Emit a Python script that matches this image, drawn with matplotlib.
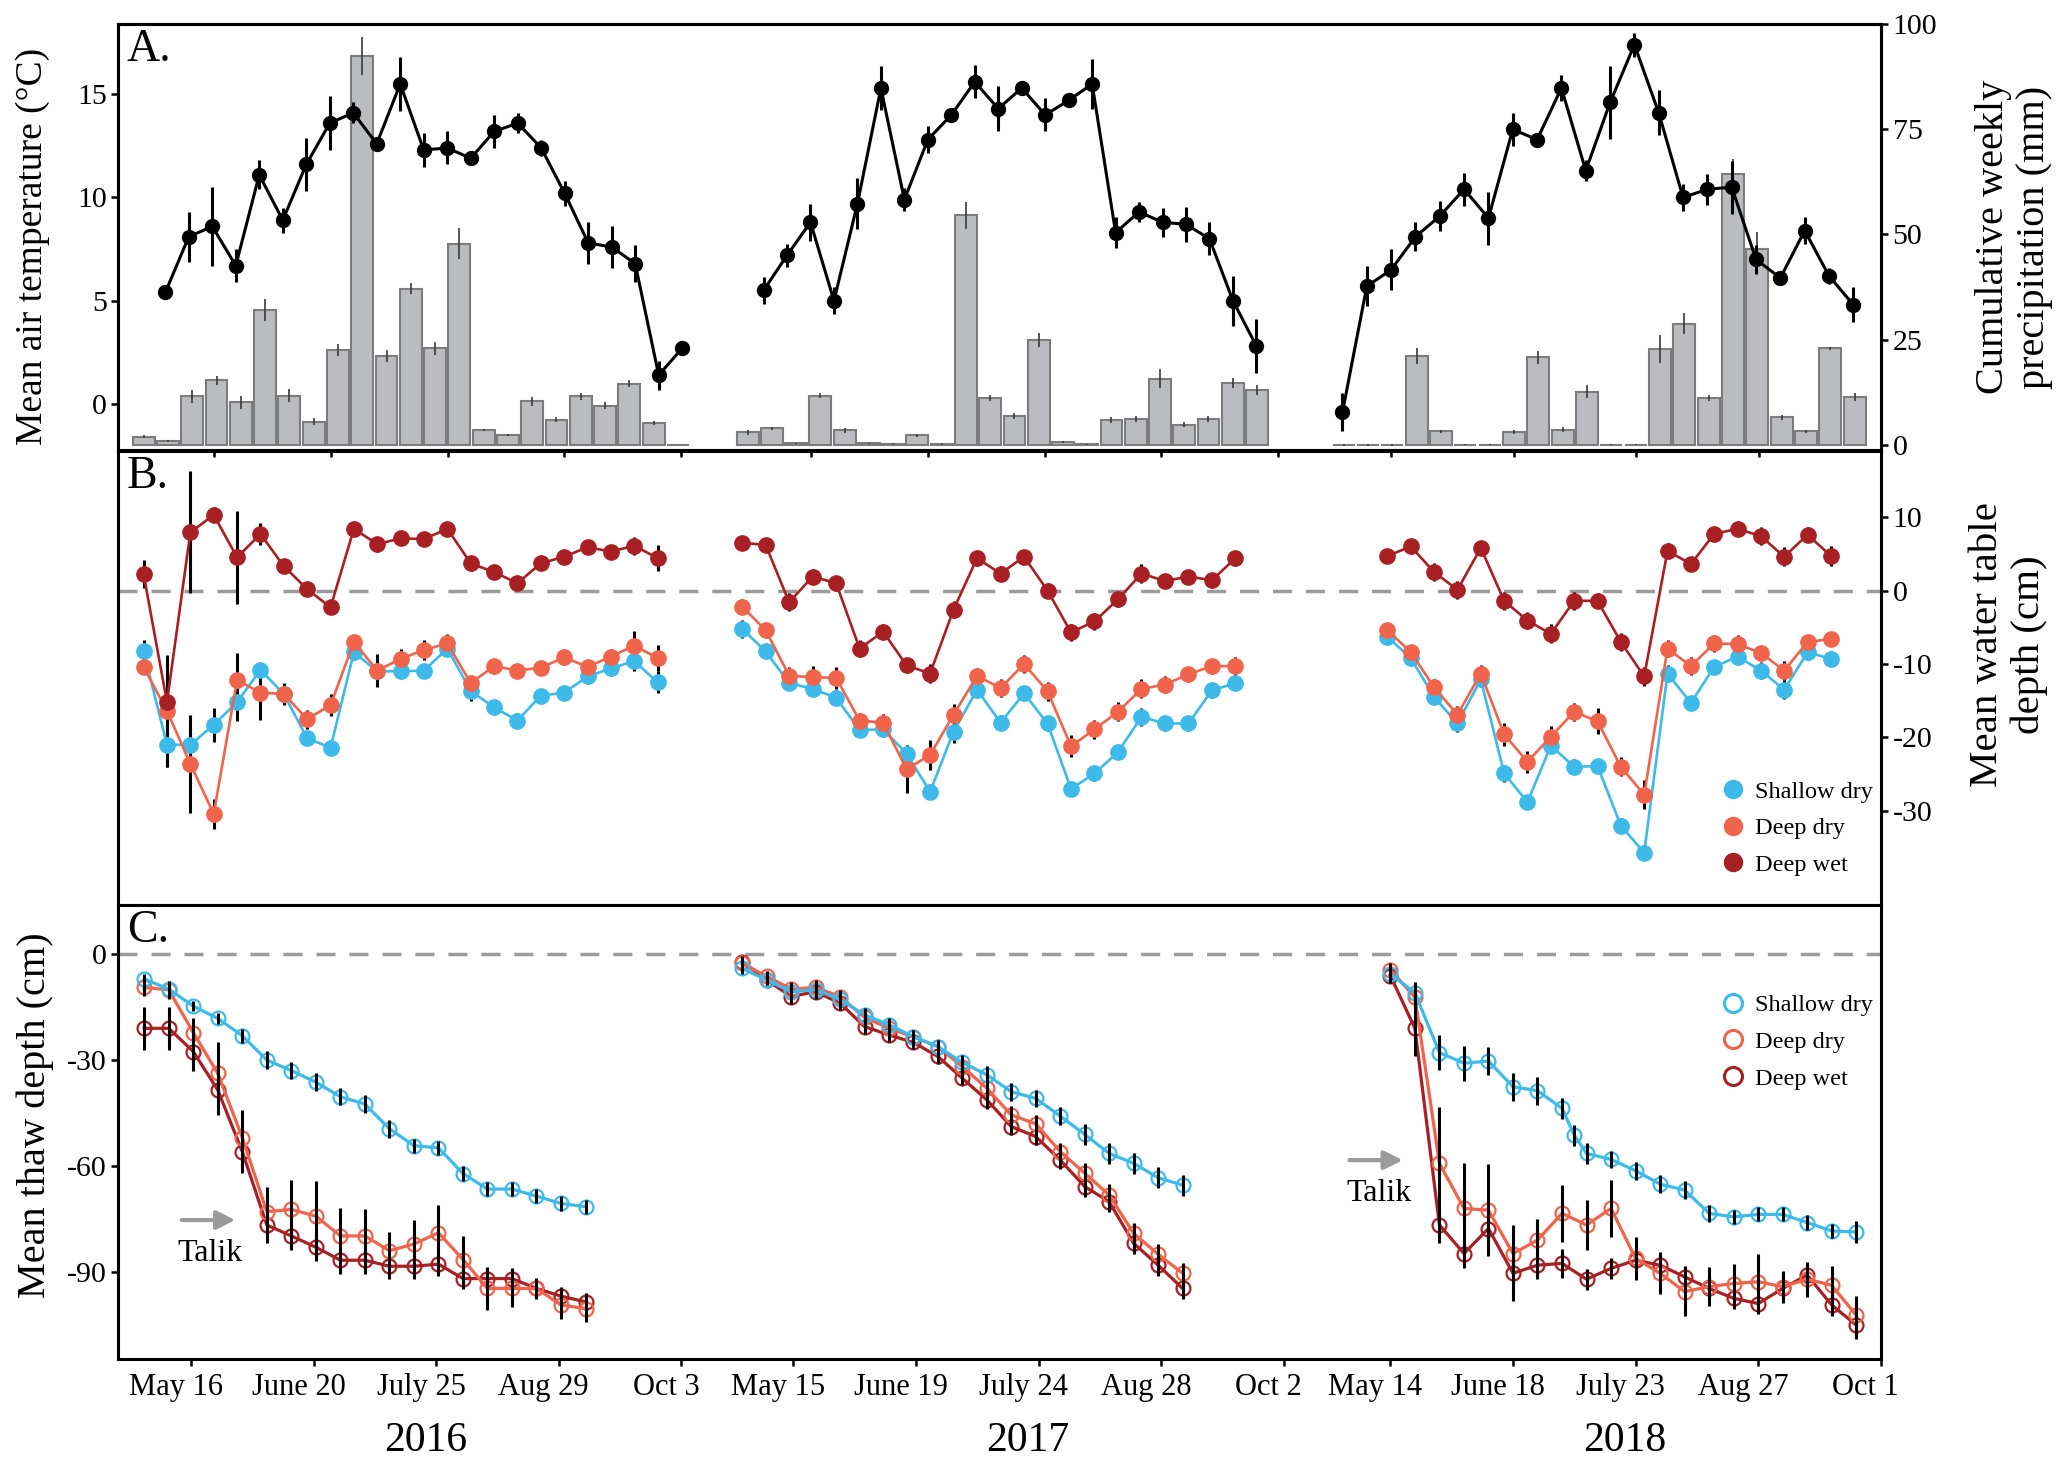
import matplotlib
matplotlib.use('Agg')
import matplotlib.pyplot as plt
import matplotlib.transforms as mtrans
from matplotlib.lines import Line2D
import numpy as np

plt.rcParams['font.family'] = ['Liberation Serif', 'DejaVu Serif']
plt.rcParams['axes.unicode_minus'] = False

YEARS = ['2016', '2017', '2018']
TICK_LABELS = [['May 16', 'June 20', 'July 25', 'Aug 29', 'Oct 3'],
               ['May 15', 'June 19', 'July 24', 'Aug 28', 'Oct 2'],
               ['May 14', 'June 18', 'July 23', 'Aug 27', 'Oct 1']]
TICK_WEEKS = [0, 5, 10, 15, 20]

# ---- panel A: mean air temperature (deg C) ----
temp_2016 = [5.4, 8.1, 8.6, 6.7, 11.1, 8.9, 11.6, 13.6, 14.1, 12.6, 15.5, 12.3,
             12.4, 11.9, 13.2, 13.6, 12.4, 10.2, 7.8, 7.6, 6.8, 1.4, 2.7]
temp_err_2016 = [0.3, 1.2, 1.9, 0.8, 0.7, 0.6, 1.3, 1.3, 0.5, 0.2, 1.3, 0.8,
                 0.8, 0.3, 0.8, 0.5, 0.4, 0.6, 1.0, 1.0, 0.9, 0.7, 0.0]
temp_2017 = [5.5, 7.2, 8.8, 5.0, 9.7, 15.3, 9.9, 12.8, 14.0, 15.6, 14.3, 15.3,
             14.0, 14.7, 15.5, 8.3, 9.3, 8.8, 8.7, 8.0, 5.0, 2.8]
temp_err_2017 = [0.65, 0.55, 0.9, 0.65, 1.25, 1.05, 0.55, 0.65, 0.35, 0.8, 1.1, 0.2,
                 0.8, 0.3, 1.2, 0.75, 0.5, 0.7, 0.85, 0.8, 1.2, 1.3]
temp_2018 = [-0.4, 5.7, 6.5, 8.1, 9.1, 10.4, 9.0, 13.3, 12.8, 15.3, 11.3, 14.6,
             17.4, 14.1, 10.0, 10.4, 10.5, 7.0, 6.1, 8.4, 6.2, 4.8]
temp_err_2018 = [0.93, 0.97, 1.0, 0.7, 0.72, 0.8, 1.29, 0.8, 0.3, 0.64, 0.5, 1.77,
                 0.58, 1.09, 0.64, 0.76, 1.29, 0.72, 0.36, 0.64, 0.4, 0.85]

# ---- panel A: cumulative weekly precipitation (mm) ----
precip_2016 = [1.9, 0.9, 11.5, 15.3, 10.1, 32.0, 11.7, 5.5, 22.5, 92.4, 21.1, 37.1,
               22.9, 47.8, 3.5, 2.3, 10.3, 5.9, 11.5, 9.3, 14.5, 5.1, 0.0]
precip_err_2016 = [0.3, 0.2, 1.5, 1.0, 1.5, 2.6, 1.5, 0.8, 1.5, 4.6, 1.5, 1.3,
                   1.5, 3.6, 0.3, 0.3, 1.0, 0.6, 0.9, 0.8, 0.8, 0.5, 0.0]
precip_2017 = [3.0, 3.9, 0.3, 11.7, 3.4, 0.3, 0.2, 2.2, 0.1, 54.5, 11.1, 6.9,
               24.9, 0.7, 0.1, 5.8, 6.1, 15.7, 4.7, 6.1, 14.7, 13.0]
precip_err_2017 = [0.6, 0.4, 0.1, 0.7, 0.6, 0.1, 0.1, 0.4, 0.1, 3.2, 0.8, 0.7,
                   1.7, 0.2, 0.1, 0.7, 0.7, 2.2, 0.6, 0.8, 1.2, 1.2]
precip_2018 = [0.0, 0.0, 0.0, 21.2, 3.2, 0.0, 0.0, 3.0, 20.8, 3.6, 12.6, 0.0,
               0.0, 22.8, 28.8, 11.1, 64.3, 46.5, 6.5, 3.2, 22.9, 11.3]
precip_err_2018 = [0.2, 0.2, 0.2, 1.9, 0.4, 0.1, 0.1, 0.5, 1.5, 0.5, 1.6, 0.1,
                   0.1, 3.3, 2.5, 0.8, 3.6, 4.0, 0.5, 0.4, 0.3, 1.0]

# ---- panel B: mean water table depth (cm) ----
wt_shallow_2016 = [-8.3, -21.0, -21.0, -18.3, -15.2, -10.8, -14.1, -20.1, -21.4, -8.4, -11.0, -11.0,
                   -10.9, -7.9, -13.7, -15.9, -17.7, -14.3, -13.9, -11.7, -10.6, -9.6, -12.5]
wt_deepdry_2016 = [-10.4, -16.4, -23.6, -30.4, -12.2, -13.9, -14.1, -17.5, -15.6, -7.0, -10.9, -9.3,
                   -8.1, -7.2, -12.6, -10.3, -10.9, -10.5, -9.1, -10.4, -9.0, -7.5, -9.2]
wt_deepwet_2016 = [2.2, -15.2, 7.9, 10.3, 4.5, 7.7, 3.3, 0.2, -2.3, 8.4, 6.3, 7.1,
                   7.0, 8.4, 3.7, 2.5, 1.0, 3.7, 4.6, 5.9, 5.3, 6.1, 4.4]
wt_shallow_err_2016 = [1.5, 3.0, 2.5, 2.3, 2.5, 0.8, 1.3, 0.8, 1.0, 1.0, 0.8, 0.5,
                       0.5, 0.5, 1.3, 1.0, 1.0, 0.8, 0.8, 1.0, 1.0, 1.3, 1.5]
wt_deepdry_err_2016 = [1.0, 7.6, 6.7, 2.0, 3.7, 3.7, 1.5, 1.3, 1.5, 1.0, 2.3, 1.3,
                       1.3, 1.3, 1.0, 1.0, 0.8, 0.8, 1.0, 0.8, 1.0, 2.0, 1.8]
wt_deepwet_err_2016 = [1.9, 1.0, 8.3, 1.0, 6.3, 1.5, 0.8, 0.6, 0.5, 0.8, 1.0, 0.6,
                       0.7, 0.7, 1.0, 0.8, 0.6, 0.6, 0.6, 0.7, 0.7, 1.2, 1.8]

wt_shallow_2017 = [-5.2, -8.3, -12.6, -13.4, -14.6, -19.0, -18.9, -22.2, -27.4, -19.2, -13.5,
                   -18.0, -14.0, -18.1, -27.0, -24.9, -22.0, -17.2, -18.1, -18.1, -13.6, -12.6]
wt_deepdry_2017 = [-2.2, -5.4, -11.6, -11.8, -11.9, -17.7, -18.0, -24.3, -22.4, -16.9, -11.6,
                   -13.3, -10.0, -13.7, -21.2, -18.9, -16.5, -13.4, -12.8, -11.4, -10.3, -10.3]
wt_deepwet_2017 = [6.5, 6.2, -1.6, 1.9, 1.0, -7.9, -5.6, -10.2, -11.3, -2.6, 4.4,
                   2.3, 4.6, 0.0, -5.7, -4.2, -1.2, 2.3, 1.3, 1.9, 1.4, 4.4]
wt_shallow_err_2017 = [1.2, 1.0, 1.0, 1.0, 1.0, 1.0, 1.0, 1.2, 1.0, 1.5, 1.0,
                       1.0, 1.0, 1.0, 1.0, 1.0, 1.0, 1.2, 1.0, 1.0, 1.0, 1.0]
wt_deepdry_err_2017 = [1.0, 1.0, 1.2, 1.5, 1.5, 1.0, 1.2, 3.2, 2.0, 1.5, 1.0,
                       1.2, 1.2, 1.3, 1.5, 1.3, 1.3, 1.3, 1.2, 1.0, 1.0, 1.3]
wt_deepwet_err_2017 = [0.8, 0.8, 1.2, 1.0, 1.0, 1.2, 1.0, 1.0, 1.3, 1.2, 1.0,
                       1.0, 0.8, 1.0, 1.2, 1.2, 1.0, 1.3, 1.0, 0.8, 1.0, 1.0]

wt_shallow_2018 = [-6.3, -9.2, -14.5, -18.1, -12.1, -24.9, -28.8, -21.1, -24.0, -23.9,
                   -32.0, -35.7, -11.3, -15.3, -10.4, -9.0, -10.9, -13.5, -8.4, -9.3]
wt_deepdry_2018 = [-5.4, -8.4, -13.2, -16.9, -11.3, -19.6, -23.3, -19.9, -16.5, -17.8,
                   -24.0, -27.8, -7.9, -10.3, -7.2, -7.3, -8.5, -10.9, -7.0, -6.6]
wt_deepwet_2018 = [4.7, 6.0, 2.5, 0.1, 5.8, -1.4, -4.1, -5.9, -1.4, -1.4,
                   -7.0, -11.7, 5.4, 3.6, 7.7, 8.4, 7.4, 4.6, 7.6, 4.7]
wt_shallow_err_2018 = [1.0, 1.0, 1.0, 1.2, 1.0, 1.2, 1.0, 1.0, 1.0, 1.0,
                       1.0, 1.0, 1.2, 1.0, 1.0, 1.0, 1.2, 1.3, 1.0, 1.0]
wt_deepdry_err_2018 = [1.0, 1.0, 1.2, 1.2, 1.2, 1.5, 1.5, 1.5, 1.2, 1.8,
                       1.3, 2.0, 1.2, 1.2, 1.2, 1.2, 1.0, 1.3, 1.0, 1.0]
wt_deepwet_err_2018 = [1.0, 1.0, 1.2, 1.2, 1.0, 1.2, 1.2, 1.3, 1.2, 1.0,
                       1.2, 1.3, 1.0, 1.0, 1.0, 1.0, 1.2, 1.3, 1.0, 1.3]

# ---- panel C: mean thaw depth (cm) ----
td_shallow_2016 = [-7.0, -9.9, -14.7, -18.2, -23.1, -30.0, -33.0, -36.3, -40.4, -42.5,
                   -49.5, -54.3, -54.9, -62.2, -66.6, -66.6, -68.6, -70.7, -71.6]
td_deepdry_2016 = [-9.4, -10.1, -22.2, -33.8, -52.0, -73.0, -72.4, -74.3, -79.9, -79.9,
                   -84.1, -82.2, -79.0, -86.6, -94.8, -94.8, -94.8, -99.5, -100.5]
td_deepwet_2016 = [-21.0, -21.0, -27.6, -38.5, -56.0, -76.8, -79.9, -83.1, -86.8, -86.8,
                   -88.5, -88.5, -87.9, -92.0, -92.0, -92.0, -94.8, -97.0, -98.6]
td_shallow_err_2016 = [1.5, 1.5, 1.5, 1.5, 2.0, 2.5, 2.5, 2.5, 2.5, 2.5,
                       2.5, 2.0, 2.0, 2.0, 2.0, 2.0, 2.0, 2.0, 2.0]
td_deepdry_err_2016 = [2.5, 2.5, 4.0, 9.0, 7.8, 7.0, 8.3, 10.0, 7.8, 7.6,
                       5.4, 6.9, 8.0, 6.6, 6.0, 5.2, 3.0, 4.0, 3.8]
td_deepwet_err_2016 = [6.1, 6.1, 5.5, 7.0, 6.0, 5.0, 4.0, 4.0, 4.0, 4.0,
                       3.5, 3.5, 3.5, 3.0, 3.0, 3.0, 2.5, 2.5, 2.5]

td_shallow_2017 = [-4.0, -7.3, -10.6, -10.1, -12.8, -17.2, -20.0, -23.4, -26.2, -30.7,
                   -34.2, -39.0, -40.9, -45.9, -51.1, -56.5, -59.3, -63.4, -65.5]
td_deepdry_2017 = [-2.6, -6.2, -9.9, -9.4, -12.0, -17.9, -21.0, -23.4, -26.2, -31.9,
                   -38.0, -45.6, -48.1, -56.0, -62.1, -68.3, -79.2, -85.1, -90.5]
td_deepwet_2017 = [-2.1, -7.3, -12.0, -10.6, -13.9, -20.5, -22.9, -25.0, -29.0, -35.2,
                   -41.3, -48.9, -51.7, -58.4, -65.9, -70.2, -82.0, -88.2, -94.8]
td_err_2017 = [1.5, 1.5, 2.0, 2.0, 2.0, 2.0, 2.0, 2.0, 2.0, 2.0,
               2.5, 2.5, 2.5, 2.5, 3.0, 3.0, 3.0, 3.0, 3.0]

# shallow dry 2018 has one extra, mid-week survey
td_shallow_weeks_2018 = [0, 1, 2, 3, 4, 5, 6, 7, 7.5, 8, 9, 10, 11, 12, 13, 14, 15, 16, 17, 18, 19]
td_shallow_2018 = [-5.6, -10.9, -27.9, -30.9, -30.3, -37.6, -38.7, -43.7, -51.3, -56.5, -58.2,
                   -61.4, -65.2, -66.9, -73.5, -74.5, -73.8, -73.8, -76.1, -78.5, -78.8]
td_shallow_err_2018 = [2.5, 3.0, 5.0, 5.0, 4.0, 4.0, 4.0, 3.0, 3.0, 3.0, 2.5,
                       2.5, 2.5, 2.5, 2.5, 2.0, 2.0, 2.0, 2.0, 2.0, 3.0]
td_deepdry_2018 = [-4.4, -12.2, -59.3, -72.1, -72.6, -84.9, -81.1, -73.5, -76.8, -72.1,
                   -86.3, -90.5, -95.7, -94.3, -93.4, -92.9, -94.3, -92.2, -93.9, -102.4]
td_deepdry_err_2018 = [2.0, 3.0, 16.0, 13.0, 13.0, 8.0, 6.0, 8.0, 7.0, 8.0,
                       6.0, 6.0, 7.0, 5.5, 5.5, 8.0, 4.5, 5.0, 5.5, 5.5]
td_deepwet_2018 = [-6.1, -21.0, -76.8, -84.9, -77.8, -90.5, -88.2, -87.7, -92.2, -89.1,
                   -86.8, -88.2, -91.5, -94.8, -97.6, -99.1, -94.8, -91.0, -99.5, -105.2]
td_deepwet_err_2018 = [2.0, 8.0, 5.0, 4.0, 4.0, 8.0, 4.0, 4.0, 3.0, 3.0,
                       3.0, 3.0, 3.0, 3.0, 3.0, 3.0, 3.0, 3.0, 3.0, 4.0]

SITES = ['Shallow dry', 'Deep dry', 'Deep wet']
COLORS = ['#3DBAEA', '#F0644C', '#A81F24']

# layout of the broken seasonal axis: (start, step) of each year's weekly series
XLIM = (-2.98, 68.95)
A_PT = [(-1.05, 0.959), (23.37, 0.958), (47.0, 0.993)]
A_BAR = [(-1.93, 0.991), (22.72, 0.99), (47.05, 0.993)]
A_TICK = [(0.94, 0.953), (25.30, 0.954), (49.0, 1.0)]
B_PT = [(-1.935, 0.953), (22.48, 0.958), (48.8, 0.952)]
C_PT = [(-1.91, 1.0), (22.48, 0.998), (48.92, 1.0)]
BC_TICK = [(0.0, 1.0), (24.57, 1.0), (48.92, 1.0)]


def xpos(pos, idx):
    return pos[0] + pos[1] * np.asarray(idx, dtype=float)


fig = plt.figure(figsize=(20.63, 14.65), dpi=100)
L, W = 0.0572, 0.8548
ax_a = fig.add_axes([L, 0.6928, W, 0.2908])
ax_b = fig.add_axes([L, 0.3823, W, 0.3099])
ax_c = fig.add_axes([L, 0.0724, W, 0.3099])
ax_p = ax_a.twinx()

SPW = 2.2
for ax in (ax_a, ax_b, ax_c, ax_p):
    for s in ax.spines.values():
        s.set_linewidth(SPW)
    ax.set_xlim(*XLIM)
    ax.tick_params(direction='out', length=5, width=1.8, labelsize=21.5, pad=3)

# ---------- A ----------
temps = [temp_2016, temp_2017, temp_2018]
temp_errs = [temp_err_2016, temp_err_2017, temp_err_2018]
precs = [precip_2016, precip_2017, precip_2018]
prec_errs = [precip_err_2016, precip_err_2017, precip_err_2018]
for i in range(3):
    xb = xpos(A_BAR[i], range(len(precs[i])))
    ax_p.bar(xb, precs[i], width=0.9 * A_BAR[i][1], color='#BBBCC0', edgecolor='#7C7C7C',
             linewidth=1.5, yerr=prec_errs[i],
             error_kw=dict(ecolor='#3A3A3A', elinewidth=1.2, capsize=0))
    x = xpos(A_PT[i], range(len(temps[i])))
    ax_a.errorbar(x, temps[i], yerr=temp_errs[i], fmt='none', ecolor='k', elinewidth=2.2, zorder=2)
    ax_a.plot(x, temps[i], '-o', color='k', lw=2.2, ms=10, zorder=3)

ax_a.set_zorder(ax_p.get_zorder() + 1)
ax_a.patch.set_visible(False)
ax_a.set_ylim(-2.23, 18.4)
ax_a.set_yticks([0, 5, 10, 15])
ax_p.set_ylim(-1.26, 100)
ax_p.set_yticks([0, 25, 50, 75, 100])
a_ticks = np.concatenate([xpos(A_TICK[i], TICK_WEEKS) for i in range(3)])
ax_a.set_xticks(a_ticks)
ax_a.set_xticklabels([])
ax_a.text(0.005, 0.99, 'A.', transform=ax_a.transAxes, fontsize=33, va='top', ha='left')
ax_a.text(-0.0482, 0.479, 'Mean air temperature (°C)', transform=ax_a.transAxes,
          rotation=90, fontsize=27, ha='center', va='center')
ax_a.text(1.075, 0.5, 'Cumulative weekly\nprecipitation (mm)', transform=ax_a.transAxes,
          rotation=90, fontsize=29, ha='center', va='center', linespacing=1.15)

bc_ticks = np.concatenate([xpos(BC_TICK[i], TICK_WEEKS) for i in range(3)])

# ---------- B ----------
wt = [[wt_shallow_2016, wt_deepdry_2016, wt_deepwet_2016],
      [wt_shallow_2017, wt_deepdry_2017, wt_deepwet_2017],
      [wt_shallow_2018, wt_deepdry_2018, wt_deepwet_2018]]
wt_err = [[wt_shallow_err_2016, wt_deepdry_err_2016, wt_deepwet_err_2016],
          [wt_shallow_err_2017, wt_deepdry_err_2017, wt_deepwet_err_2017],
          [wt_shallow_err_2018, wt_deepdry_err_2018, wt_deepwet_err_2018]]
ax_b.axhline(0, color='#9B9B9B', lw=2.5, ls=(0, (5.5, 4)), zorder=1)
for i in range(3):
    for k in range(3):
        x = xpos(B_PT[i], range(len(wt[i][k])))
        ax_b.errorbar(x, wt[i][k], yerr=wt_err[i][k], fmt='none', ecolor='k', elinewidth=2.2, zorder=2)
        ax_b.plot(x, wt[i][k], '-o', color=COLORS[k], lw=1.9, ms=11, zorder=3 + k * 0.1)
ax_b.set_ylim(-42.8, 19.0)
ax_b.yaxis.tick_right()
ax_b.set_yticks([10, 0, -10, -20, -30])
ax_b.tick_params(axis='y', left=False, labelleft=False)
ax_b.set_xticks(bc_ticks)
ax_b.set_xticklabels([])
ax_b.text(0.005, 0.99, 'B.', transform=ax_b.transAxes, fontsize=33, va='top', ha='left')
ax_b.text(1.0722, 0.573, 'Mean water table\ndepth (cm)', transform=ax_b.transAxes,
          rotation=90, fontsize=29.5, ha='center', va='center', linespacing=1.15)
hb = [Line2D([], [], marker='o', ls='none', color=c, ms=13) for c in COLORS]
ax_b.legend(hb, SITES, loc='upper left', bbox_to_anchor=(0.909, 0.274), frameon=False,
            fontsize=17.5, handlelength=1.0, handletextpad=0.4, labelspacing=0.6,
            borderpad=0, borderaxespad=0)

# ---------- C ----------
td = [[td_shallow_2016, td_deepdry_2016, td_deepwet_2016],
      [td_shallow_2017, td_deepdry_2017, td_deepwet_2017],
      [td_shallow_2018, td_deepdry_2018, td_deepwet_2018]]
td_err = [[td_shallow_err_2016, td_deepdry_err_2016, td_deepwet_err_2016],
          [td_err_2017, td_err_2017, td_err_2017],
          [td_shallow_err_2018, td_deepdry_err_2018, td_deepwet_err_2018]]
ax_c.axhline(0, color='#9B9B9B', lw=2.5, ls=(0, (5.5, 4)), zorder=1)
for i in range(3):
    for k in range(3):
        if i == 2 and k == 0:
            idx = td_shallow_weeks_2018
        else:
            idx = range(len(td[i][k]))
        x = xpos(C_PT[i], idx)
        ax_c.plot(x, td[i][k], '-o', color=COLORS[k], lw=2.3, ms=10, mfc='none', mew=1.6,
                  zorder=3 + (2 - k) * 0.1)
        ax_c.errorbar(x, td[i][k], yerr=td_err[i][k], fmt='none', ecolor='k', elinewidth=2.2, zorder=4)
ax_c.set_ylim(-114.8, 14.0)
ax_c.set_yticks([0, -30, -60, -90])
ax_c.set_xticks(bc_ticks)
ax_c.set_xticklabels([lab for labs in TICK_LABELS for lab in labs], fontsize=22)
ax_c.tick_params(axis='x', pad=5)
shift = mtrans.ScaledTranslation(-0.15, 0, fig.dpi_scale_trans)
for lab in ax_c.get_xticklabels():
    lab.set_transform(lab.get_transform() + shift)
ax_c.text(0.005, 0.99, 'C.', transform=ax_c.transAxes, fontsize=33, va='top', ha='left')
ax_c.text(-0.047, 0.537, 'Mean thaw depth (cm)', transform=ax_c.transAxes,
          rotation=90, fontsize=29, ha='center', va='center')
hc = [Line2D([], [], marker='o', ls='none', mfc='none', mec=c, mew=2.2, ms=13) for c in COLORS]
ax_c.legend(hc, SITES, loc='upper left', bbox_to_anchor=(0.909, 0.803), frameon=False,
            fontsize=17.5, handlelength=1.0, handletextpad=0.4, labelspacing=0.6,
            borderpad=0, borderaxespad=0)

# talik arrows
for xt, xh, ya, xl, yl in [(-0.49, 1.92, -75.4, 0.78, -84.9), (47.14, 49.54, -58.4, 48.44, -67.8)]:
    ax_c.annotate('', xy=(xh, ya), xytext=(xt, ya),
                  arrowprops=dict(arrowstyle='-|>', color='#9B9B9B', lw=3, mutation_scale=28))
    ax_c.text(xl, yl, 'Talik', fontsize=23, ha='center', va='center')

# year labels
tr = mtrans.blended_transform_factory(ax_c.transData, fig.transFigure)
for i, yr in enumerate(YEARS):
    ax_c.text(xpos(BC_TICK[i], 10) - 0.45, 0.0164, yr, transform=tr, fontsize=30,
              ha='center', va='center')

fig.savefig('out.png', dpi=100, facecolor='white')
